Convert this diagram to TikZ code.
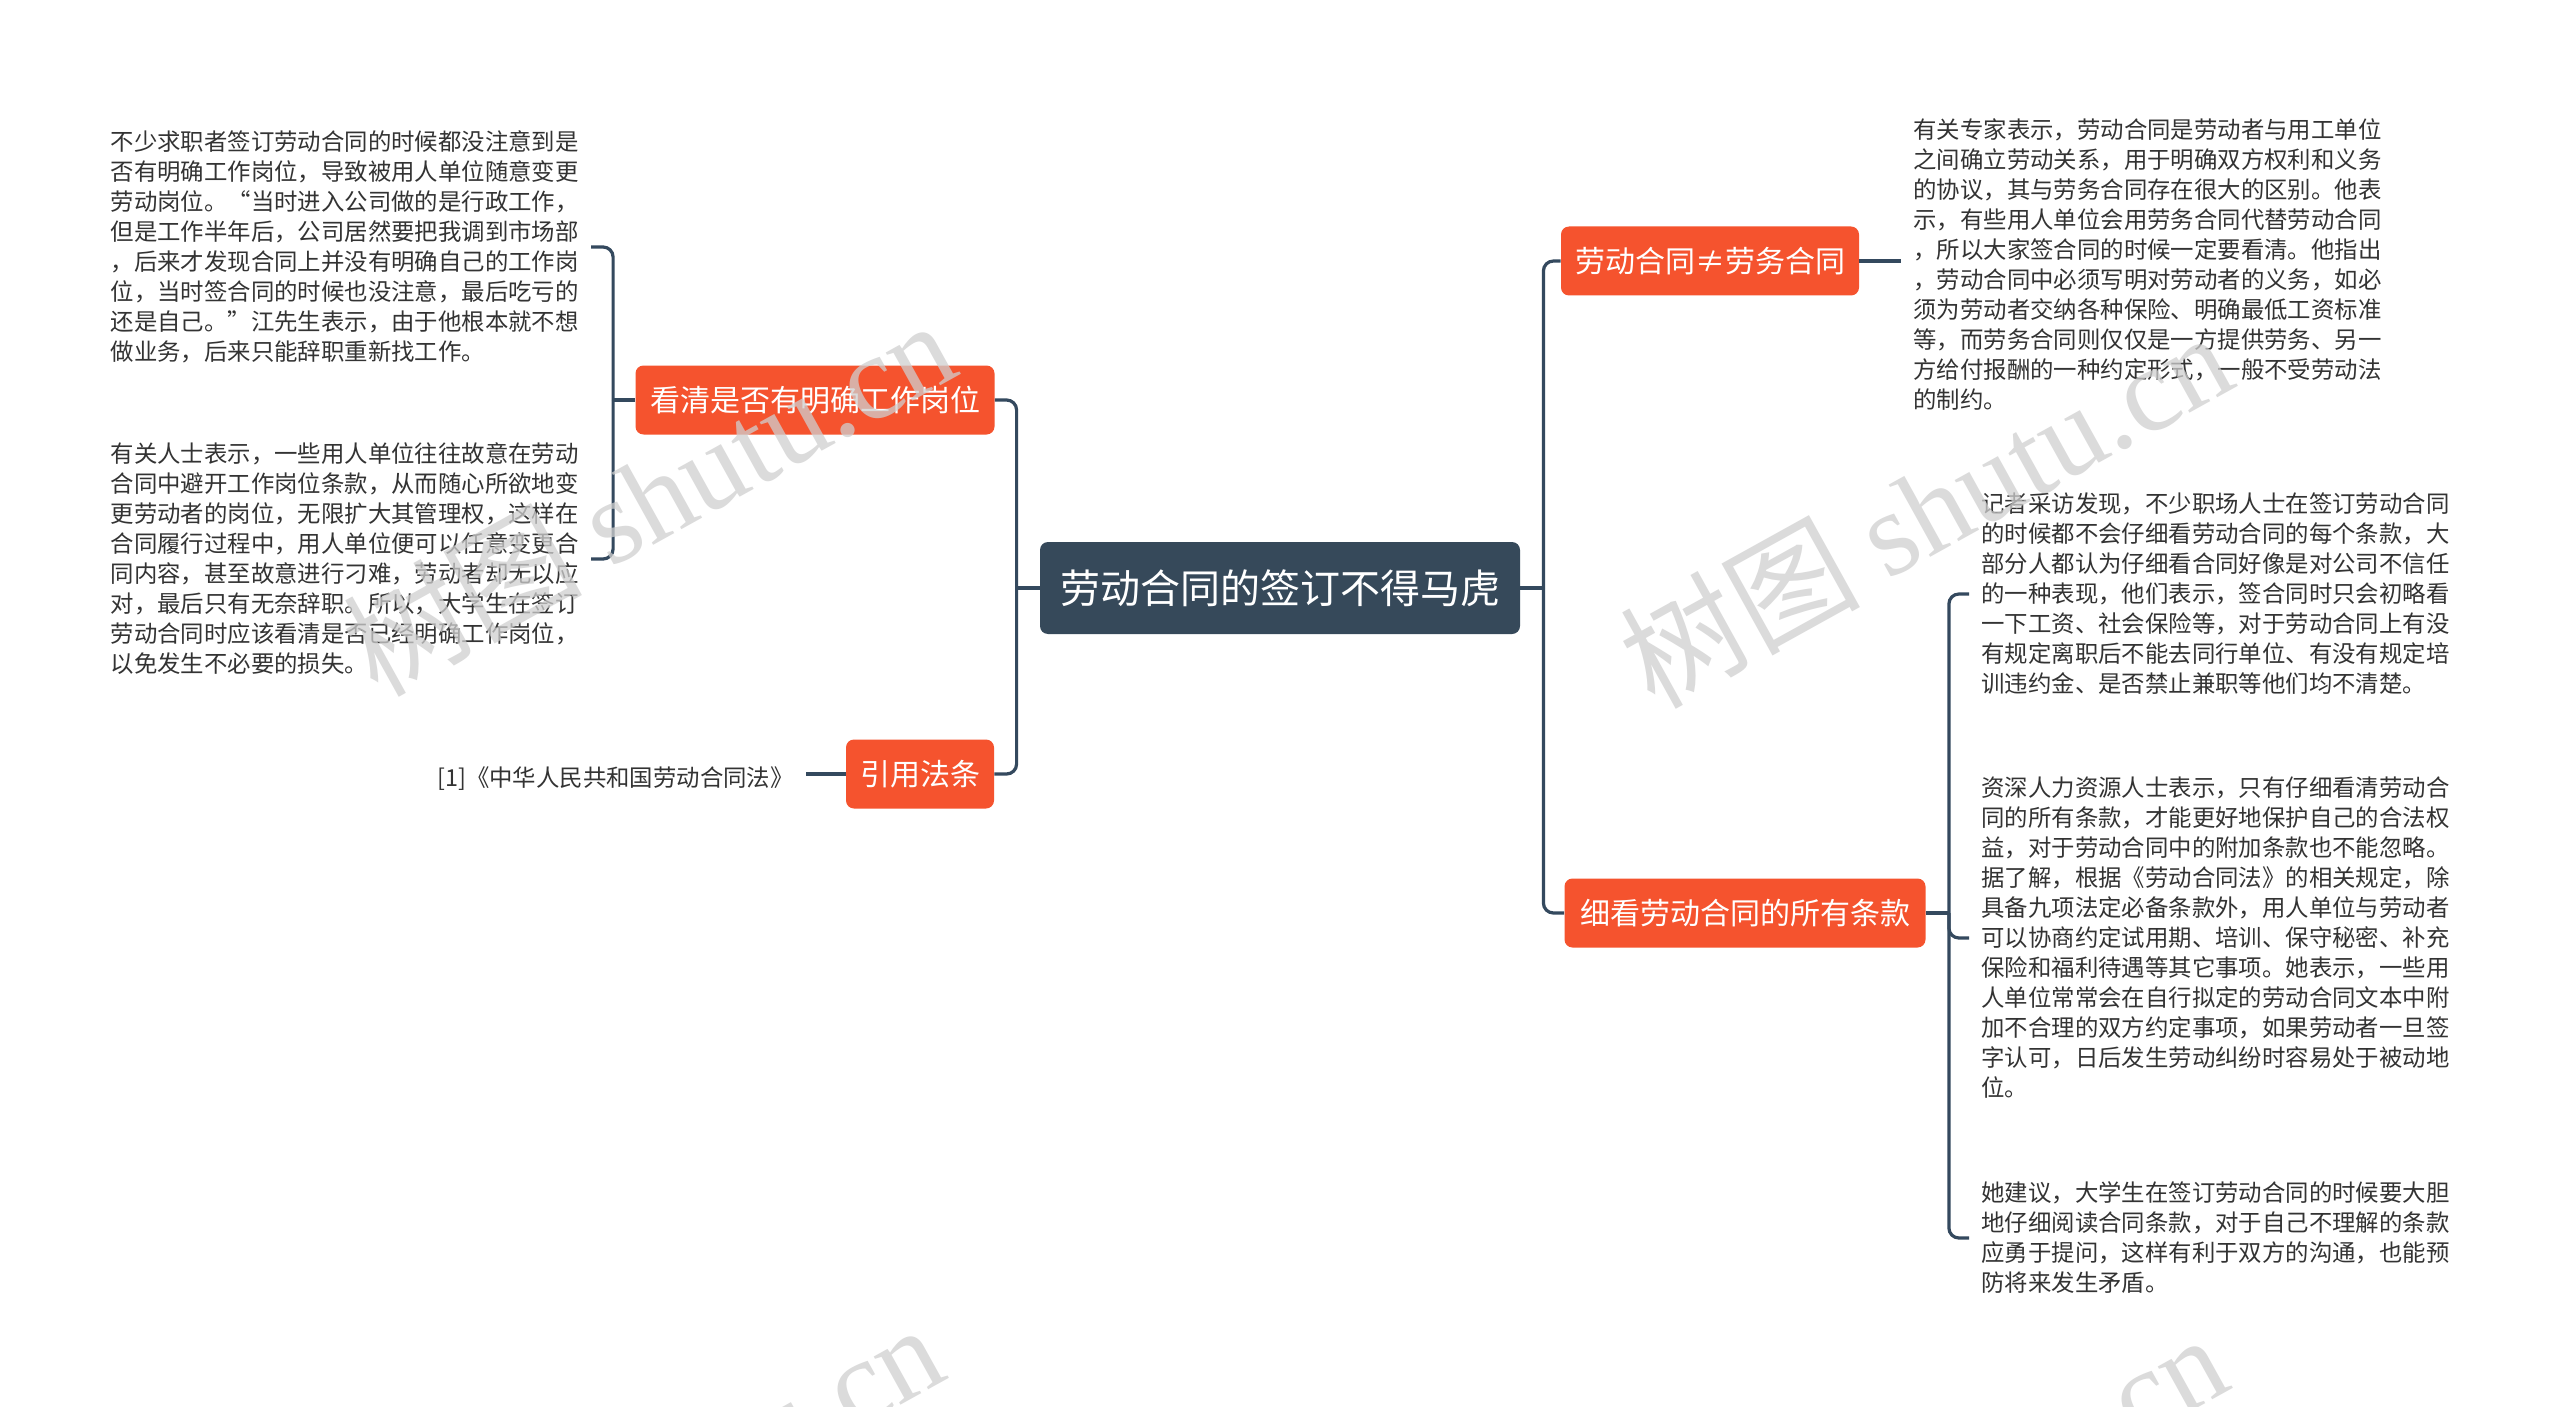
\documentclass[tikz,border=0pt]{standalone}
\usepackage{fontspec}
\setmainfont{Noto Sans CJK SC}
\newfontfamily\wmfont{Liberation Serif}
\definecolor{darkc}{HTML}{34495E}
\definecolor{rootc}{HTML}{36495A}
\definecolor{orangec}{HTML}{F5532E}
\definecolor{textc}{HTML}{333333}
\definecolor{wmc}{HTML}{CFCFCF}
\begin{document}
\begin{tikzpicture}[x=0.5pt,y=-0.5pt,
  rootbox/.style={fill=rootc, rounded corners=4pt, text=white, font=\fontsize{20pt}{24pt}\selectfont, minimum width=240pt, minimum height=46pt, inner sep=0pt},
  branchbox/.style={fill=orangec, rounded corners=4pt, text=white, font=\fontsize{15pt}{18pt}\selectfont, minimum height=34.5pt, inner xsep=7pt, inner ysep=0pt},
  leaf/.style={text=textc, font=\fontsize{11.7pt}{15pt}\selectfont, align=left, inner xsep=6pt, inner ysep=0pt},
  conn/.style={draw=darkc, line width=1.6pt, rounded corners=5pt},
  wm/.style={text=wmc, opacity=0.75, rotate=29, font=\fontsize{60pt}{60pt}\selectfont, inner sep=0pt},
]
\useasboundingbox (0,0) rectangle (2560,1407);
\fill[white] (0,0) rectangle (2560,1407);

% root and branches
\node[rootbox] (root) at (1280,588) {劳动合同的签订不得马虎};
\node[branchbox, minimum width=179.5pt] (b1) at (815,400) {看清是否有明确工作岗位};
\node[branchbox, minimum width=74pt] (b2) at (920,774) {引用法条};
\node[branchbox, minimum width=146pt] (b3) at (1710,261) {劳动合同≠劳务合同};
\node[branchbox, minimum width=180.5pt] (b4) at (1745,913) {细看劳动合同的所有条款};

% leaves
\node[leaf, anchor=east] (L1) at (591,247) {不少求职者签订劳动合同的时候都没注意到是\\
否有明确工作岗位，导致被用人单位随意变更\\
劳动岗位。“当时进入公司做的是行政工作，\\
但是工作半年后，公司居然要把我调到市场部\\
，后来才发现合同上并没有明确自己的工作岗\\
位，当时签合同的时候也没注意，最后吃亏的\\
还是自己。”江先生表示，由于他根本就不想\\
做业务，后来只能辞职重新找工作。};
\node[leaf, anchor=east] (L2) at (591,559) {有关人士表示，一些用人单位往往故意在劳动\\
合同中避开工作岗位条款，从而随心所欲地变\\
更劳动者的岗位，无限扩大其管理权，这样在\\
合同履行过程中，用人单位便可以任意变更合\\
同内容，甚至故意进行刁难，劳动者却无以应\\
对，最后只有无奈辞职。所以，大学生在签订\\
劳动合同时应该看清是否已经明确工作岗位，\\
以免发生不必要的损失。};
\node[leaf, anchor=east] (C1) at (806,779) {[1]《中华人民共和国劳动合同法》};
\node[leaf, anchor=west] (R0) at (1901,265) {有关专家表示，劳动合同是劳动者与用工单位\\
之间确立劳动关系，用于明确双方权利和义务\\
的协议，其与劳务合同存在很大的区别。他表\\
示，有些用人单位会用劳务合同代替劳动合同\\
，所以大家签合同的时候一定要看清。他指出\\
，劳动合同中必须写明对劳动者的义务，如必\\
须为劳动者交纳各种保险、明确最低工资标准\\
等，而劳务合同则仅仅是一方提供劳务、另一\\
方给付报酬的一种约定形式，一般不受劳动法\\
的制约。};
\node[leaf, anchor=west] (RA) at (1969,594) {记者采访发现，不少职场人士在签订劳动合同\\
的时候都不会仔细看劳动合同的每个条款，大\\
部分人都认为仔细看合同好像是对公司不信任\\
的一种表现，他们表示，签合同时只会初略看\\
一下工资、社会保险等，对于劳动合同上有没\\
有规定离职后不能去同行单位、有没有规定培\\
训违约金、是否禁止兼职等他们均不清楚。};
\node[leaf, anchor=west] (RB) at (1969,938) {资深人力资源人士表示，只有仔细看清劳动合\\
同的所有条款，才能更好地保护自己的合法权\\
益，对于劳动合同中的附加条款也不能忽略。\\
据了解，根据《劳动合同法》的相关规定，除\\
具备九项法定必备条款外，用人单位与劳动者\\
可以协商约定试用期、培训、保守秘密、补充\\
保险和福利待遇等其它事项。她表示，一些用\\
人单位常常会在自行拟定的劳动合同文本中附\\
加不合理的双方约定事项，如果劳动者一旦签\\
字认可，日后发生劳动纠纷时容易处于被动地\\
位。};
\node[leaf, anchor=west] (RC) at (1969,1238) {她建议，大学生在签订劳动合同的时候要大胆\\
地仔细阅读合同条款，对于自己不理解的条款\\
应勇于提问，这样有利于双方的沟通，也能预\\
防将来发生矛盾。};

% connectors
\draw[conn] (root.west) -- ++(-23,0) coordinate (lj);
\draw[conn] (lj) |- (b1.east);
\draw[conn] (lj) |- (b2.east);
\draw[conn] (root.east) -- ++(23,0) coordinate (rj);
\draw[conn] (rj) |- (b3.west);
\draw[conn] (rj) |- (b4.west);
\draw[conn] (b1.west) -- ++(-22,0) coordinate (lj1);
\draw[conn] (lj1) |- (L1.east);
\draw[conn] (lj1) |- (L2.east);
\draw[conn] (b2.west) -- (C1.east |- b2.west);
\draw[conn] (b3.east) -- (R0.west |- b3.east);
\draw[conn] (b4.east) -- ++(23,0) coordinate (rj4);
\draw[conn] (rj4) |- (RA.west);
\draw[conn] (rj4) |- (RB.west);
\draw[conn] (rj4) |- (RC.west);

% watermarks
\begin{scope}
\clip (0,0) rectangle (2560,1407);
\node[wm] (wm1) at (648,496) {树图 {\wmfont shutu.cn}};
\node[wm] (wm2) at (1925,508) {树图 {\wmfont shutu.cn}};
\node[wm] (wm3) at (636,1500) {树图 {\wmfont shutu.cn}};
\node[wm] (wm4) at (1920,1510) {树图 {\wmfont shutu.cn}};
\end{scope}
\end{tikzpicture}
\end{document}
